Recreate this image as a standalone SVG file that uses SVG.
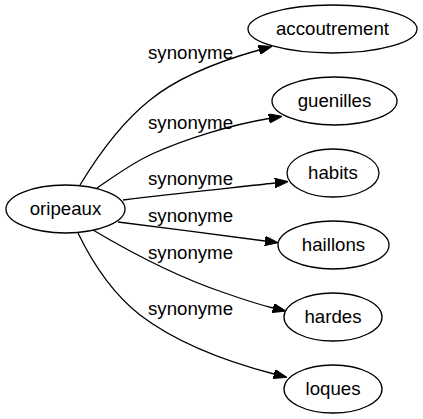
<svg xmlns="http://www.w3.org/2000/svg" width="423" height="419" viewBox="0 0 423 419">
<style>
.node ellipse{fill:#fff;stroke:#000;stroke-width:1.3}
.node text{font-family:"Liberation Sans",Arial,sans-serif;font-size:18.67px;text-anchor:middle;fill:#000}
.edges path{fill:none;stroke:#000;stroke-width:1.3;marker-end:url(#arrow)}
.edges text{font-family:"Liberation Sans",Arial,sans-serif;font-size:18.67px;text-anchor:middle;fill:#000}
</style>
<defs>
<marker id="arrow" markerUnits="userSpaceOnUse" viewBox="0 0 13.3 9.4" refX="0" refY="4.7" markerWidth="13.3" markerHeight="9.4" orient="auto">
<path d="M0,0 L13.3,4.7 L0,9.4 z" fill="#000" stroke="#000" stroke-width="1"/>
</marker>
</defs>
<rect width="423" height="419" fill="#fff"/>
<g class="edges" id="edges">
<path d="M80,185 C97,157 121,123 150,100 C178,77 220,61 259,50"/>
<text x="190.5" y="59">synonyme</text>
<path d="M97,188 C115,176 132,163 152,154 C185,139 230,125 269,118.5"/>
<text x="190.5" y="129">synonyme</text>
<path d="M123,200 C170,194 230,188 275,183"/>
<text x="190.5" y="185">synonyme</text>
<path d="M118,222 C165,228 220,235 265,241"/>
<text x="190.5" y="222">synonyme</text>
<path d="M93,230 C130,252 180,278 225,293 C242,299 257,304 273,308"/>
<text x="190.5" y="259">synonyme</text>
<path d="M78,233 C92,262 112,293 140,315 C178,344 228,362 274,374"/>
<text x="190.5" y="315">synonyme</text>
</g>
<g class="node" id="node-oripeaux">
<ellipse cx="65.5" cy="209" rx="59.5" ry="24"/>
<text x="65.5" y="214.6">oripeaux</text>
</g>
<g class="node" id="node-accoutrement">
<ellipse cx="332.5" cy="29" rx="84.5" ry="24"/>
<text x="332.5" y="34.6">accoutrement</text>
</g>
<g class="node" id="node-guenilles">
<ellipse cx="334.5" cy="101" rx="62.5" ry="24"/>
<text x="334.5" y="106.6">guenilles</text>
</g>
<g class="node" id="node-habits">
<ellipse cx="333" cy="173" rx="46" ry="24"/>
<text x="333" y="178.6">habits</text>
</g>
<g class="node" id="node-haillons">
<ellipse cx="333.5" cy="245" rx="55.5" ry="24"/>
<text x="333.5" y="250.6">haillons</text>
</g>
<g class="node" id="node-hardes">
<ellipse cx="333" cy="317" rx="49" ry="24"/>
<text x="333" y="322.6">hardes</text>
</g>
<g class="node" id="node-loques">
<ellipse cx="333" cy="389" rx="49" ry="24"/>
<text x="333" y="394.6">loques</text>
</g>
</svg>
